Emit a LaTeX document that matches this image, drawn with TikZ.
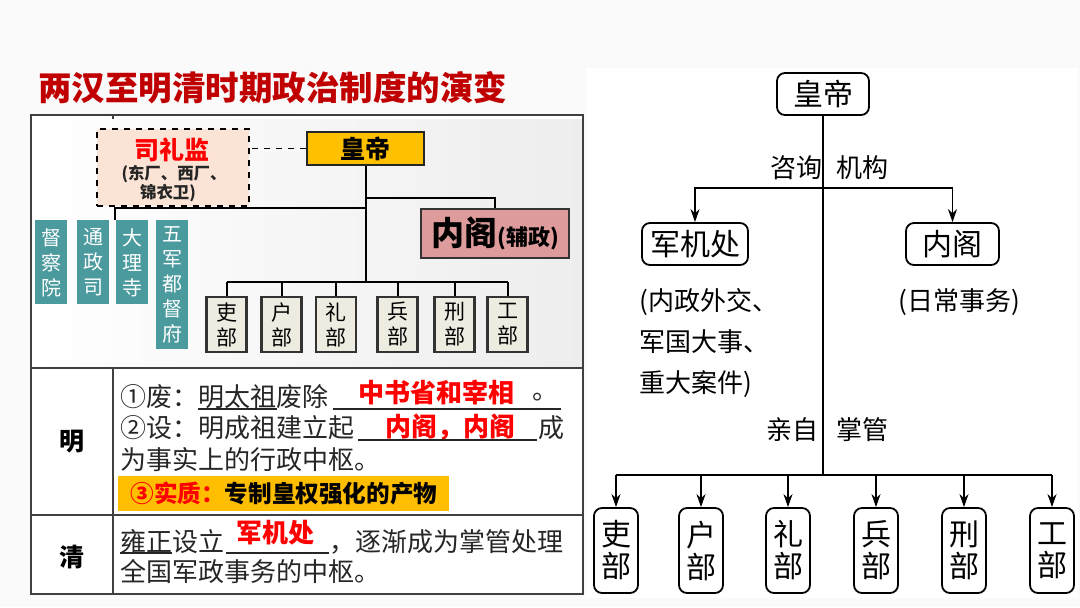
\documentclass[tikz,border=0pt]{standalone}
\usepackage{fontspec}
\setmainfont{Noto Sans CJK SC}
\usetikzlibrary{arrows.meta}
\definecolor{titlered}{RGB}{192,0,0}
\definecolor{ink}{RGB}{38,38,38}
\definecolor{gold}{RGB}{255,192,0}
\definecolor{hlgold}{RGB}{255,190,0}
\definecolor{pinkbg}{RGB}{251,228,214}
\definecolor{nkpink}{RGB}{221,155,155}
\definecolor{deptbg}{RGB}{238,236,225}
\definecolor{courtteal}{RGB}{75,154,158}

\begin{document}
\begin{tikzpicture}[x=.5pt,y=-.5pt,
  dept/.style={draw=black!80,line width=1.2pt,fill=deptbg,minimum width=20pt,minimum height=27.5pt,inner sep=0pt,align=center,font=\fontsize{10.5}{12.5}\selectfont},
  court/.style={fill=courtteal,text=white,minimum width=16pt,inner sep=0pt,align=center,anchor=north,font=\fontsize{10}{12.5}\selectfont},
  rbox/.style={draw,line width=.9pt,rounded corners=4pt,inner sep=0pt,font=\fontsize{15}{16}\selectfont},
  rdept/.style={rbox,minimum width=22pt,minimum height=42.5pt,align=center},
  body/.style={anchor=west,inner sep=0pt,text=ink,font=\fontsize{13}{15}\selectfont},
  ans/.style={inner sep=0pt,text=red,font=\fontsize{13}{15}\selectfont\bfseries},
  lbl/.style={inner sep=0pt,font=\fontsize{13}{15}\selectfont},
  rule/.style={draw=black!75,line width=1pt},
  arr/.style={-{Stealth[length=6.5pt,width=4.5pt]},line width=.9pt}]
 \fill[gray!4] (0,0) rectangle (1080,607);
 \useasboundingbox (0,0) rectangle (1080,607);
 \fill[white] (586,68) rectangle (1078,598);

 \node[anchor=west,inner sep=0pt,text=titlered,font=\fontsize{16.75}{18}\selectfont\bfseries] (title) at (38,88) {两汉至明清时期政治制度的演变};

 % table
 \fill[white] (31,115) rectangle (583,594);
 \shade[left color=white,right color=gray!14] (32,119) rectangle (582,366);
 \draw[rule] (31,115) rectangle (583,594);
 \draw[rule] (31,368) -- (583,368) (31,515) -- (583,515) (113,368) -- (113,594) (113,115) -- (113,119);
 \node[font=\fontsize{12.5}{14}\selectfont\bfseries] (ming) at (72,442) {明};
 \node[font=\fontsize{12.5}{14}\selectfont\bfseries] (qing) at (72,557) {清};

 \node[body] (m1) at (120,397) {①废：明太祖废除};
 \node[ans] (a1) at (436,392) {中书省和宰相};
 \node[body] (m1b) at (532,397) {。};
 \node[body] (m2) at (120,428) {②设：明成祖建立起};
 \node[ans] (a2) at (450,427) {内阁，内阁};
 \node[body] (m2b) at (538,428) {成};
 \node[body] (m3) at (120,460) {为事实上的行政中枢。};
 \node[fill=hlgold,anchor=west,inner sep=0pt,minimum width=165.5pt,minimum height=17.5pt,font=\fontsize{11.8}{13}\selectfont\bfseries] (sz) at (118,493.5) {{\color{red}③实质：}专制皇权强化的产物};
 \node[body] (q1) at (120,542) {雍正设立};
 \node[ans] (a3) at (275,533) {军机处};
 \node[body] (q1b) at (329,542) {，逐渐成为掌管处理};
 \node[body] (q2) at (120,571) {全国军政事务的中枢。};
 \draw[ink,line width=.6pt] (198,409) -- (277,409) (333,409) -- (561,409);
 \draw[ink,line width=.6pt] (358,440) -- (537,440);
 \draw[ink,line width=.6pt] (120,553) -- (172,553) (226,553) -- (329,553);

 % Ming system
 \node[draw=black!85,line width=1.3pt,fill=gold,minimum width=58.5pt,minimum height=16.5pt,inner sep=0pt,font=\fontsize{12.5}{14}\selectfont\bfseries] (hd) at (365.5,148.5) {皇帝};
 \node[draw,dashed,line width=.9pt,fill=pinkbg,minimum width=76pt,minimum height=38.5pt,inner sep=0pt] (slj) at (173,167.5) {};
 \node[text=red,inner sep=0pt,font=\fontsize{12.5}{14}\selectfont\bfseries] (sljname) at (172,150) {司礼监};
 \node[inner sep=0pt,text=ink,font=\fontsize{8.2}{10}\selectfont\bfseries] (sljs1) at (174,174) {(东厂、西厂、};
 \node[inner sep=0pt,text=ink,font=\fontsize{8.2}{10}\selectfont\bfseries] (sljs2) at (168,193) {锦衣卫)};
 \draw[dashed,line width=.9pt] (hd.west) -- (hd.west -| slj.east);

 \node[court,minimum height=42pt] (dcy) at (51,220) {督\\察\\院};
 \node[court,minimum height=42pt] (tzs) at (93,220) {通\\政\\司};
 \node[court,minimum height=42pt] (dls) at (132,220) {大\\理\\寺};
 \node[court,minimum height=64.5pt] (wjd) at (172,220) {五\\军\\都\\督\\府};

 \node[draw=black!80,line width=1.3pt,fill=nkpink,minimum width=74pt,minimum height=24.5pt,inner sep=0pt] (nk) at (495,233.5) {{\fontsize{16.5}{18}\selectfont\bfseries 内阁}{\fontsize{11}{12}\selectfont\bfseries (辅政)}};

 \foreach \x/\n/\t in {226.5/lb1/吏,281.5/lb2/户,336/lb3/礼,397.5/lb4/兵,454.5/lb5/刑,507.5/lb6/工}
  \node[dept] (\n) at (\x,324.5) {\t\\部};

 \coordinate (nkj) at (365.5,198);
 \coordinate (slb) at (365.5,208);
 \coordinate (slt) at (115,220);
 \coordinate (lbus) at (365.5,282);
 \draw[line width=1pt] (hd.south) -- (lbus);
 \draw[line width=1pt] (nkj) -| (nk.north);
 \draw[line width=1pt] (slb) -| (slt);
 \draw[line width=1pt] (lb1.north |- lbus) -- (lb6.north |- lbus);
 \foreach \i in {1,...,6}
  \draw[line width=1pt] (lb\i.north |- lbus) -- (lb\i.north);

 % Qing system
 \node[rbox,minimum width=46pt,minimum height=21pt] (rhd) at (823,94) {皇帝};
 \node[rbox,minimum width=53pt,minimum height=21pt] (rjj) at (695,244) {军机处};
 \node[rbox,minimum width=46.5pt,minimum height=21pt] (rnk) at (952.5,244) {内阁};
 \coordinate (rj1) at (823,188);
 \coordinate (rj2) at (823,475);
 \draw[line width=.9pt] (rhd.south) -- (rj2);
 \draw[arr] (rj1) -| (rjj.north);
 \draw[arr] (rj1) -| (rnk.north);
 \node[lbl] (zx) at (796,168) {咨询};
 \node[lbl] (jg) at (862,168) {机构};
 \node[lbl,anchor=west] (jjd1) at (639,302) {(内政外交、};
 \node[lbl,anchor=west] (jjd2) at (639,342) {军国大事、};
 \node[lbl,anchor=west] (jjd3) at (639,384) {重大案件)};
 \node[lbl] (nkd) at (959,302) {(日常事务)};
 \node[lbl] (qz) at (792,430) {亲自};
 \node[lbl] (zg) at (862,430) {掌管};

 \foreach \x/\n/\t in {616/rb1/吏,701/rb2/户,788/rb3/礼,876/rb4/兵,964/rb5/刑,1052/rb6/工}
  \node[rdept] (\n) at (\x,550.5) {\t\\部};
 \draw[line width=.9pt] (rb1.north |- rj2) -- (rb6.north |- rj2);
 \foreach \i in {1,...,6}
  \draw[arr] (rb\i.north |- rj2) -- (rb\i.north);
\end{tikzpicture}
\end{document}
